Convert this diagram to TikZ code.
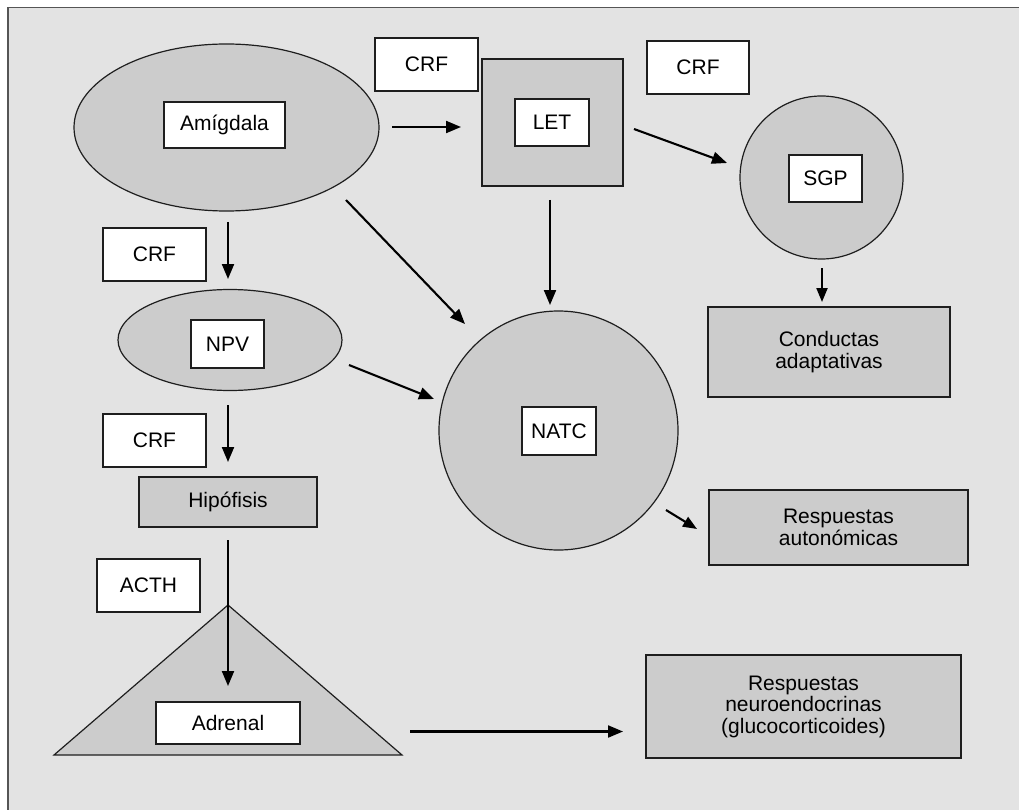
\documentclass[tikz,border=0pt]{standalone}
\usepackage{fontspec}
\setmainfont{Liberation Sans}
\usetikzlibrary{shapes.geometric,arrows.meta}
\definecolor{bg}{HTML}{E3E3E3}
\definecolor{sh}{HTML}{CCCCCC}
\definecolor{ln}{HTML}{1E1E1E}
\definecolor{frame}{HTML}{555555}
\begin{document}
\begin{tikzpicture}[x=1pt,y=-1pt,
  font=\fontsize{21}{21.5}\selectfont,
  lbl/.style={draw=ln, fill=white, line width=1.2pt, inner sep=0pt, outer sep=0pt, align=center},
  shp/.style={draw=ln, fill=sh, line width=1.2pt, inner sep=0pt, outer sep=0pt, align=center},
  arr/.style={line width=2.1pt, -{Triangle[length=15pt,width=12pt]}}
]
\useasboundingbox (0,0) rectangle (1019,810);
\fill[white] (0,0) rectangle (1019,810);
\fill[bg] (8,7.5) rectangle (1019,810);
\draw[frame, line width=1.8pt] (8,810) -- (8,7.5) -- (1019,7.5);

% shapes
\node[shp, ellipse, minimum width=305pt, minimum height=167pt] (amigE) at (226.5,127.5) {};
\node[lbl, minimum width=121pt, minimum height=46pt] (amig) at (224.5,125) {Amígdala};

\node[lbl, minimum width=103pt, minimum height=53pt] (crf1) at (426.5,64.5) {CRF};

\node[shp, minimum width=141pt, minimum height=127pt] (letS) at (552.5,122.5) {};
\node[lbl, minimum width=74pt, minimum height=47pt] (let) at (552,122.5) {LET};

\node[lbl, minimum width=102pt, minimum height=53pt] (crf2) at (698,67.5) {CRF};

\node[shp, circle, minimum size=163pt] (sgpC) at (821.5,177.5) {};
\node[lbl, minimum width=73pt, minimum height=47pt] (sgp) at (825.5,178.5) {SGP};

\node[lbl, minimum width=103pt, minimum height=53pt] (crf3) at (154.5,254.5) {CRF};

\node[shp, ellipse, minimum width=224pt, minimum height=101pt] (npvE) at (230,340) {};
\node[lbl, minimum width=73pt, minimum height=48pt] (npv) at (227.5,344) {NPV};

\node[shp, circle, minimum size=239pt] (natcC) at (558.5,430.5) {};
\node[lbl, minimum width=74pt, minimum height=48pt] (natc) at (559,431) {NATC};

\node[lbl, minimum width=103pt, minimum height=53pt] (crf4) at (154.5,440.5) {CRF};

\node[shp, minimum width=178pt, minimum height=50pt] (hip) at (228,502) {Hipófisis};

\node[lbl, minimum width=103pt, minimum height=53pt] (acth) at (148.5,585.5) {ACTH};

\coordinate (tA) at (228,605);
\coordinate (tB) at (54,755);
\coordinate (tC) at (402,755);
\draw[draw=ln, fill=sh, line width=1.2pt] (tA) -- (tB) -- (tC) -- cycle;
\node[lbl, minimum width=144pt, minimum height=42pt] (adr) at (228,723) {Adrenal};

\node[shp, minimum width=242pt, minimum height=90pt] (cond) at (829,352) {Conductas\\adaptativas};
\node[shp, minimum width=259pt, minimum height=75pt] (aut) at (838.5,527.5) {Respuestas\\autonómicas};
\node[shp, minimum width=315pt, minimum height=103pt] (neuro) at (803.5,706.5) {Respuestas\\neuroendocrinas\\(glucocorticoides)};

% connector endpoints
\coordinate (a1s) at (392,127);   \coordinate (a1e) at (461,127);
\coordinate (a2s) at (634,129);   \coordinate (a2e) at (727,163);
\coordinate (a3s) at (550,200);   \coordinate (a3e) at (550,305);
\coordinate (a4s) at (822,268);   \coordinate (a4e) at (822,302);
\coordinate (a5s) at (346,200);   \coordinate (a5e) at (465,324);
\coordinate (a6s) at (349,365);   \coordinate (a6e) at (434,399);
\coordinate (a7s) at (228,222);   \coordinate (a7e) at (228,279);
\coordinate (a8s) at (228,405);   \coordinate (a8e) at (228,462);
\coordinate (a9s) at (228,540);   \coordinate (a9e) at (228,686);
\coordinate (a10s) at (666,510);  \coordinate (a10e) at (697,529);
\coordinate (a11s) at (410,731.5);\coordinate (a11e) at (623,731.5);

\draw[arr] (a1s) -- (a1e);
\draw[arr] (a2s) -- (a2e);
\draw[arr] (a3s) -- (a3e);
\draw[arr, -{Triangle[length=14pt,width=11pt]}] (a4s) -- (a4e);
\draw[arr] (a5s) -- (a5e);
\draw[arr] (a6s) -- (a6e);
\draw[arr] (a7s) -- (a7e);
\draw[arr] (a8s) -- (a8e);
\draw[arr] (a9s) -- (a9e);
\draw[arr, -{Triangle[length=14pt,width=11pt]}] (a10s) -- (a10e);
\draw[arr] (a11s) -- (a11e);
\end{tikzpicture}
\end{document}
